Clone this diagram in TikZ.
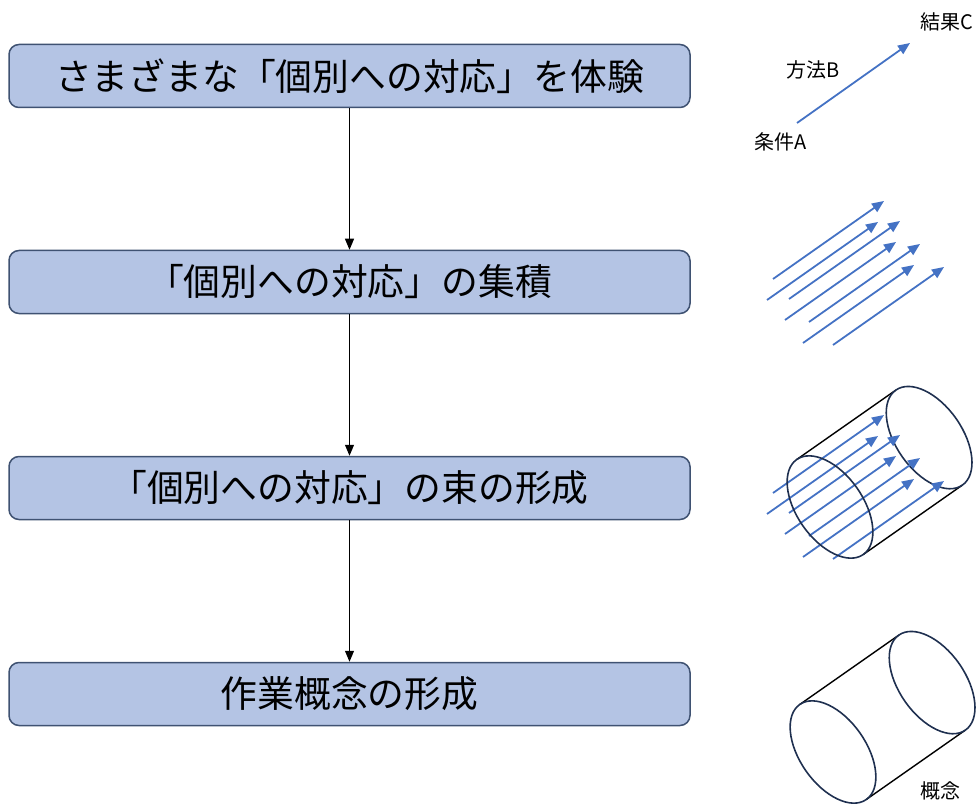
\documentclass[tikz,border=0pt]{standalone}
\usepackage{fontspec}
\newfontfamily\jpfont{Noto Sans CJK JP}
\usetikzlibrary{positioning,arrows.meta}

\definecolor{boxfill}{HTML}{B4C4E4}
\definecolor{boxline}{HTML}{3F5272}
\definecolor{flow}{HTML}{4472C4}
\definecolor{rim}{HTML}{1F3050}

\begin{document}
\begin{tikzpicture}[x=1pt, y=1pt,
    stagebox/.style={draw=boxline, line width=1.5pt, fill=boxfill, rounded corners=10pt,
        minimum width=681pt, minimum height=63pt, inner sep=0pt,
        font=\jpfont\fontsize{36.8}{40}\selectfont},
    stagearrow/.style={line width=1.2pt, -{Triangle[length=11pt,width=9pt]}},
    tag/.style={inner sep=0pt, font=\jpfont\fontsize{20}{23}\selectfont},
    flowarrow/.style={draw=flow, line width=1.8pt, -{Triangle[length=12pt,width=10pt]}},
    side/.style={line width=1.4pt},
    rimline/.style={draw=rim, line width=1.6pt}]
        \useasboundingbox (0,0) rectangle (980,-805);

        % left column: four stages
        \node[stagebox] (exp) at (349.5,-76) {さまざまな「個別への対応」を体験};
        \node[stagebox] (accum) [below=141.5pt of exp] {「個別への対応」の集積};
        \node[stagebox] (bundle) [below=141.5pt of accum] {「個別への対応」の束の形成};
        \node[stagebox] (concept) [below=141.5pt of bundle] {作業概念の形成};

        \draw (exp) edge[stagearrow] (accum) (accum) edge[stagearrow] (bundle) (bundle) edge[stagearrow] (concept);

        % right column: single case
        \node[tag] (cond) at (781,-142) {条件A};
        \node[tag] (meth) at (813,-70) {方法B};
        \node[tag] (res) at (947,-22) {結果C};
        \coordinate (a0) at (797,-123);
        \coordinate (c0) at (910,-43);
        \draw[flowarrow] (a0) -- (c0);

        % many cases
        \foreach \sx/\sy in {773/279, 767/300, 789/299, 785/320, 809/322, 803/343, 833/345}
            \draw[flowarrow] (\sx,-\sy) -- ++(111,78);

        % bundle inside a cylinder
        \begin{scope}[shift={(830,-507)}, rotate=35]
            \draw[side] (0,58) -- (121,58) (0,-58) -- (121,-58);
            \draw[rimline] (121,0) ellipse [x radius=33, y radius=58];
        \end{scope}
        \foreach \sx/\sy in {773/279, 767/300, 789/299, 785/320, 809/322, 803/343, 833/345}
            \draw[flowarrow] (\sx,-\sy-214) -- ++(111,78);
        \begin{scope}[shift={(830,-507)}, rotate=35]
            \draw[rimline] (0,0) ellipse [x radius=33, y radius=58];
        \end{scope}

        % concept cylinder
        \begin{scope}[shift={(833,-752)}, rotate=35]
            \draw[side] (0,58) -- (121,58) (0,-58) -- (121,-58);
            \draw[rimline] (121,0) ellipse [x radius=33, y radius=58];
            \draw[rimline] (0,0) ellipse [x radius=33, y radius=58];
        \end{scope}
        \node[tag] (idea) at (940,-791) {概念};

\end{tikzpicture}
\end{document}
